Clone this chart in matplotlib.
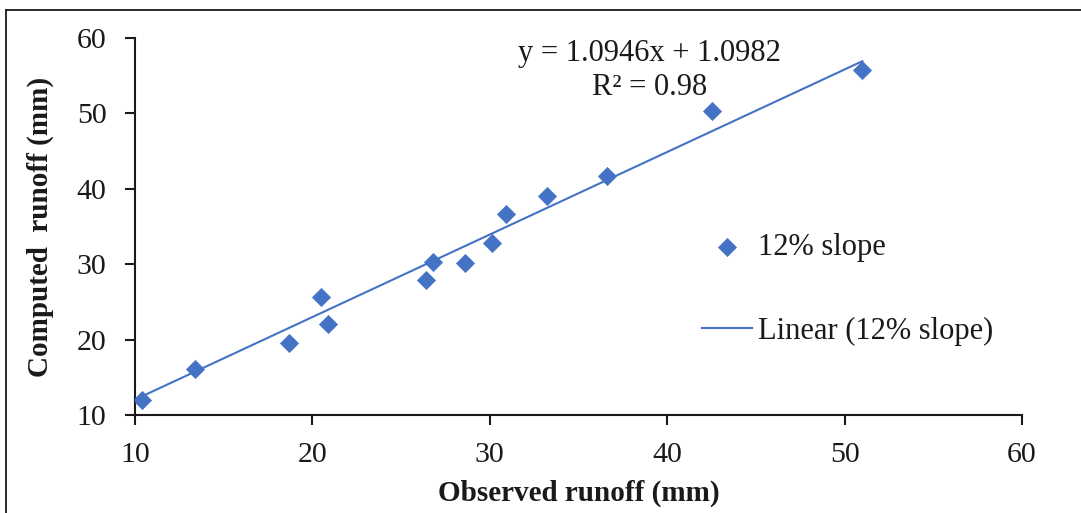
import numpy as np
import matplotlib
matplotlib.use("Agg")
import matplotlib.pyplot as plt
from matplotlib.lines import Line2D

# -- Data --
observed = [10.4, 13.4, 18.7, 20.5, 20.9, 26.4, 26.8, 28.6, 30.1, 30.9, 33.2, 36.6, 42.5, 51.0]
computed = [12.0, 16.1, 19.5, 25.6, 22.1, 27.9, 30.3, 30.1, 32.8, 36.6, 39.0, 41.7, 50.3, 55.7]
slope_coef = 1.0946
intercept = 1.0982
r_squared = 0.98

BLUE = "#4472c4"
TEXT = "#1a1a1a"

plt.rcParams["font.family"] = ["Liberation Serif", "DejaVu Serif"]

fig = plt.figure(figsize=(10.81, 5.13), dpi=100, facecolor="white")
ax = fig.add_axes([135 / 1081, 1 - 415 / 513, (1022 - 135) / 1081, (415 - 38) / 513])

ax.scatter(observed, computed, marker="D", s=95, color=BLUE, linewidths=0,
           zorder=3, label="12% slope")

xs = np.array([min(observed), max(observed)])
ax.plot(xs, slope_coef * xs + intercept, color=BLUE, linewidth=1.5,
        zorder=2, label="Linear (12% slope)")

ax.set_xlim(10, 60)
ax.set_ylim(10, 60)
ax.set_xticks(range(10, 61, 10))
ax.set_yticks(range(10, 61, 10))

for side in ["top", "right"]:
    ax.spines[side].set_visible(False)
for side in ["left", "bottom"]:
    ax.spines[side].set_linewidth(1.5)
    ax.spines[side].set_color(TEXT)
ax.tick_params(direction="out", length=7.5, width=1.5, colors=TEXT,
               labelsize=21.5)
ax.tick_params(axis="y", pad=13)
ax.tick_params(axis="x", pad=12)

ax.set_xlabel("Observed runoff (mm)", fontsize=21, fontweight="bold",
              color=TEXT, labelpad=8)
ax.set_ylabel("Computed  runoff (mm)", fontsize=21, fontweight="bold",
              color=TEXT, labelpad=16)

ax.text(39.0, 55.7, f"y = {slope_coef}x + {intercept}\nR² = {r_squared}",
        ha="center", va="center", fontsize=22, color=TEXT, linespacing=1.2)

ax.legend(loc="center left", bbox_to_anchor=(0.615, 0.333), frameon=False,
          fontsize=22, handlelength=1.65, handletextpad=0.2,
          labelspacing=1.8, labelcolor=TEXT, borderpad=0.2)

# -- outer border of the original figure --
fig.add_artist(Line2D([6 / 1081, 6 / 1081], [0, 1 - 10 / 513],
                      transform=fig.transFigure, color=TEXT, linewidth=1.3))
fig.add_artist(Line2D([6 / 1081, 1], [1 - 10 / 513, 1 - 10 / 513],
                      transform=fig.transFigure, color=TEXT, linewidth=1.3))

fig.savefig("out.png", dpi=100, facecolor="white")
